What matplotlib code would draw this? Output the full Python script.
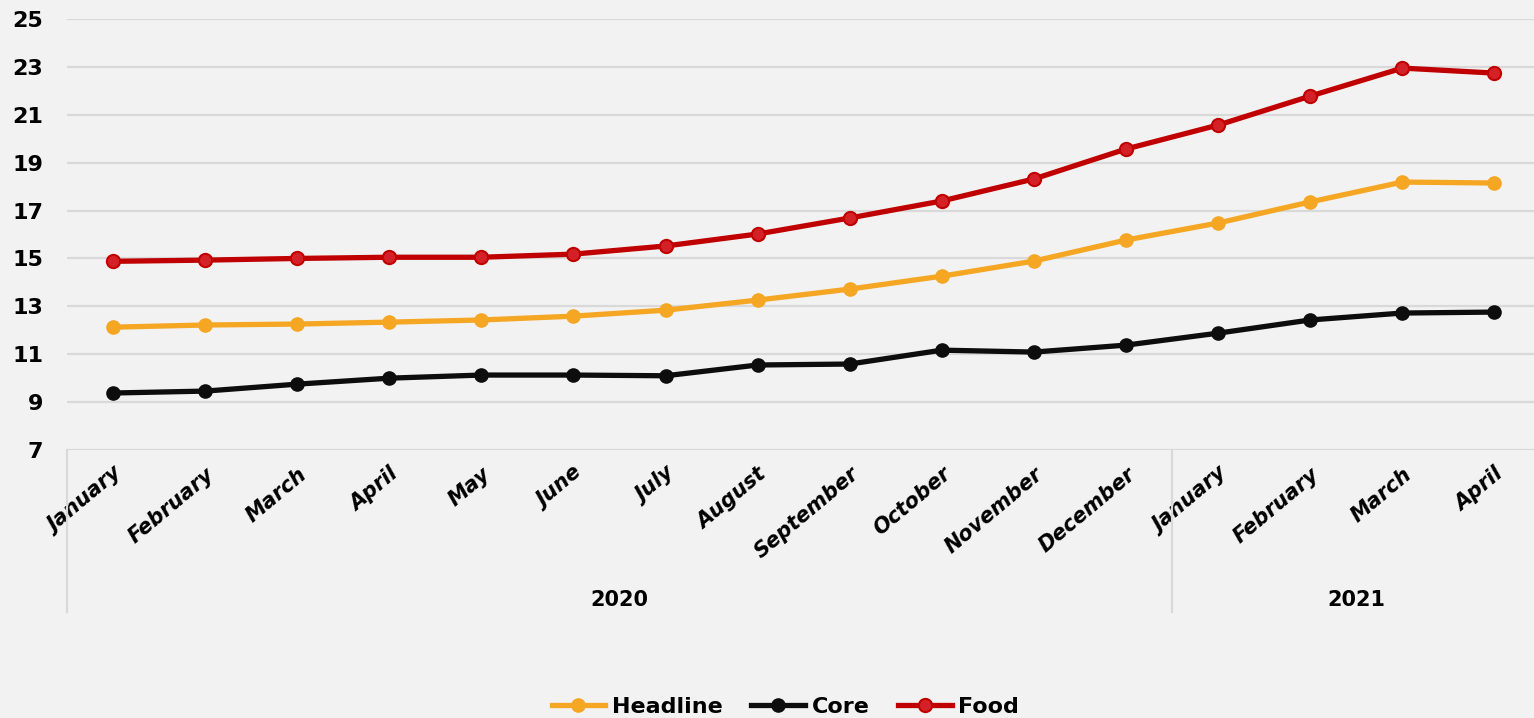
import numpy as np
import matplotlib
matplotlib.use("Agg")
import matplotlib.pyplot as plt
import matplotlib.transforms as mtrans

months = ["January", "February", "March", "April", "May", "June", "July",
          "August", "September", "October", "November", "December",
          "January", "February", "March", "April"]
years = ["2020", "2021"]
year_counts = [12, 4]

headline = [12.13, 12.22, 12.26, 12.34, 12.43, 12.59, 12.84, 13.26, 13.72,
            14.26, 14.89, 15.77, 16.48, 17.36, 18.19, 18.15]
core = [9.38, 9.46, 9.75, 10.0, 10.13, 10.13, 10.1, 10.55, 10.59,
        11.17, 11.09, 11.38, 11.88, 12.43, 12.72, 12.76]
food = [14.88, 14.93, 15.0, 15.05, 15.05, 15.18, 15.52, 16.02, 16.69,
        17.4, 18.32, 19.57, 20.57, 21.78, 22.95, 22.74]

bg = "#f2f2f2"
grid_c = "#d9d9d9"

plt.rcParams["font.family"] = "DejaVu Sans"

fig = plt.figure(figsize=(15.34, 7.18), dpi=100, facecolor=bg)
ax = fig.add_axes([67 / 1534, 1 - 450 / 718, 1 - 67 / 1534, (450 - 19) / 718])
ax.set_facecolor(bg)

x = np.arange(len(months))
ax.plot(x, headline, color="#f5a623", lw=3.8, marker="o", ms=9.5,
        mfc="#f5a623", mec="#f5a623", label="Headline", zorder=3)
ax.plot(x, core, color="#0d0d0d", lw=3.8, marker="o", ms=9.5,
        mfc="#0d0d0d", mec="#0d0d0d", label="Core", zorder=3)
ax.plot(x, food, color="#c00000", lw=3.8, marker="o", ms=9.5,
        mfc="#d42027", mec="#c00000", mew=1.5, label="Food", zorder=3)

ax.set_ylim(7, 25)
ax.set_yticks(np.arange(7, 26, 2))
ax.set_xlim(-0.5, 15.43)
ax.grid(axis="y", color=grid_c, lw=1.6)
ax.set_axisbelow(True)
for s in ax.spines.values():
    s.set_visible(False)
ax.tick_params(axis="both", length=0)
ax.tick_params(axis="y", pad=17)
for t in ax.get_yticklabels():
    t.set_fontsize(16)
    t.set_fontweight("bold")

ax.set_xticks(x)
ax.set_xticklabels(months, rotation=40, ha="right", va="top",
                   rotation_mode="anchor", fontsize=15,
                   fontweight="bold", fontstyle="italic")
ax.tick_params(axis="x", pad=10)

# year group separators and labels
tr = mtrans.blended_transform_factory(ax.transData, ax.transAxes)
depth = -(612 - 450) / 431
start = -0.5
for yr, n in zip(years, year_counts):
    ax.plot([start, start], [0, depth], color=grid_c, lw=1.6,
            transform=tr, clip_on=False)
    ax.text(start + n / 2, -(600 - 450) / 431, yr, transform=tr,
            ha="center", va="center", fontsize=15, fontweight="bold")
    start += n
ax.plot([start, start], [0, depth], color=grid_c, lw=1.6,
        transform=tr, clip_on=False)

fig.legend(loc="center", bbox_to_anchor=(0.512, 0.016), ncol=3,
           frameon=False, prop={"size": 16, "weight": "bold"},
           handlelength=2.4, handletextpad=0.3, columnspacing=1.3)

fig.savefig("out.png", dpi=100, facecolor=bg)
